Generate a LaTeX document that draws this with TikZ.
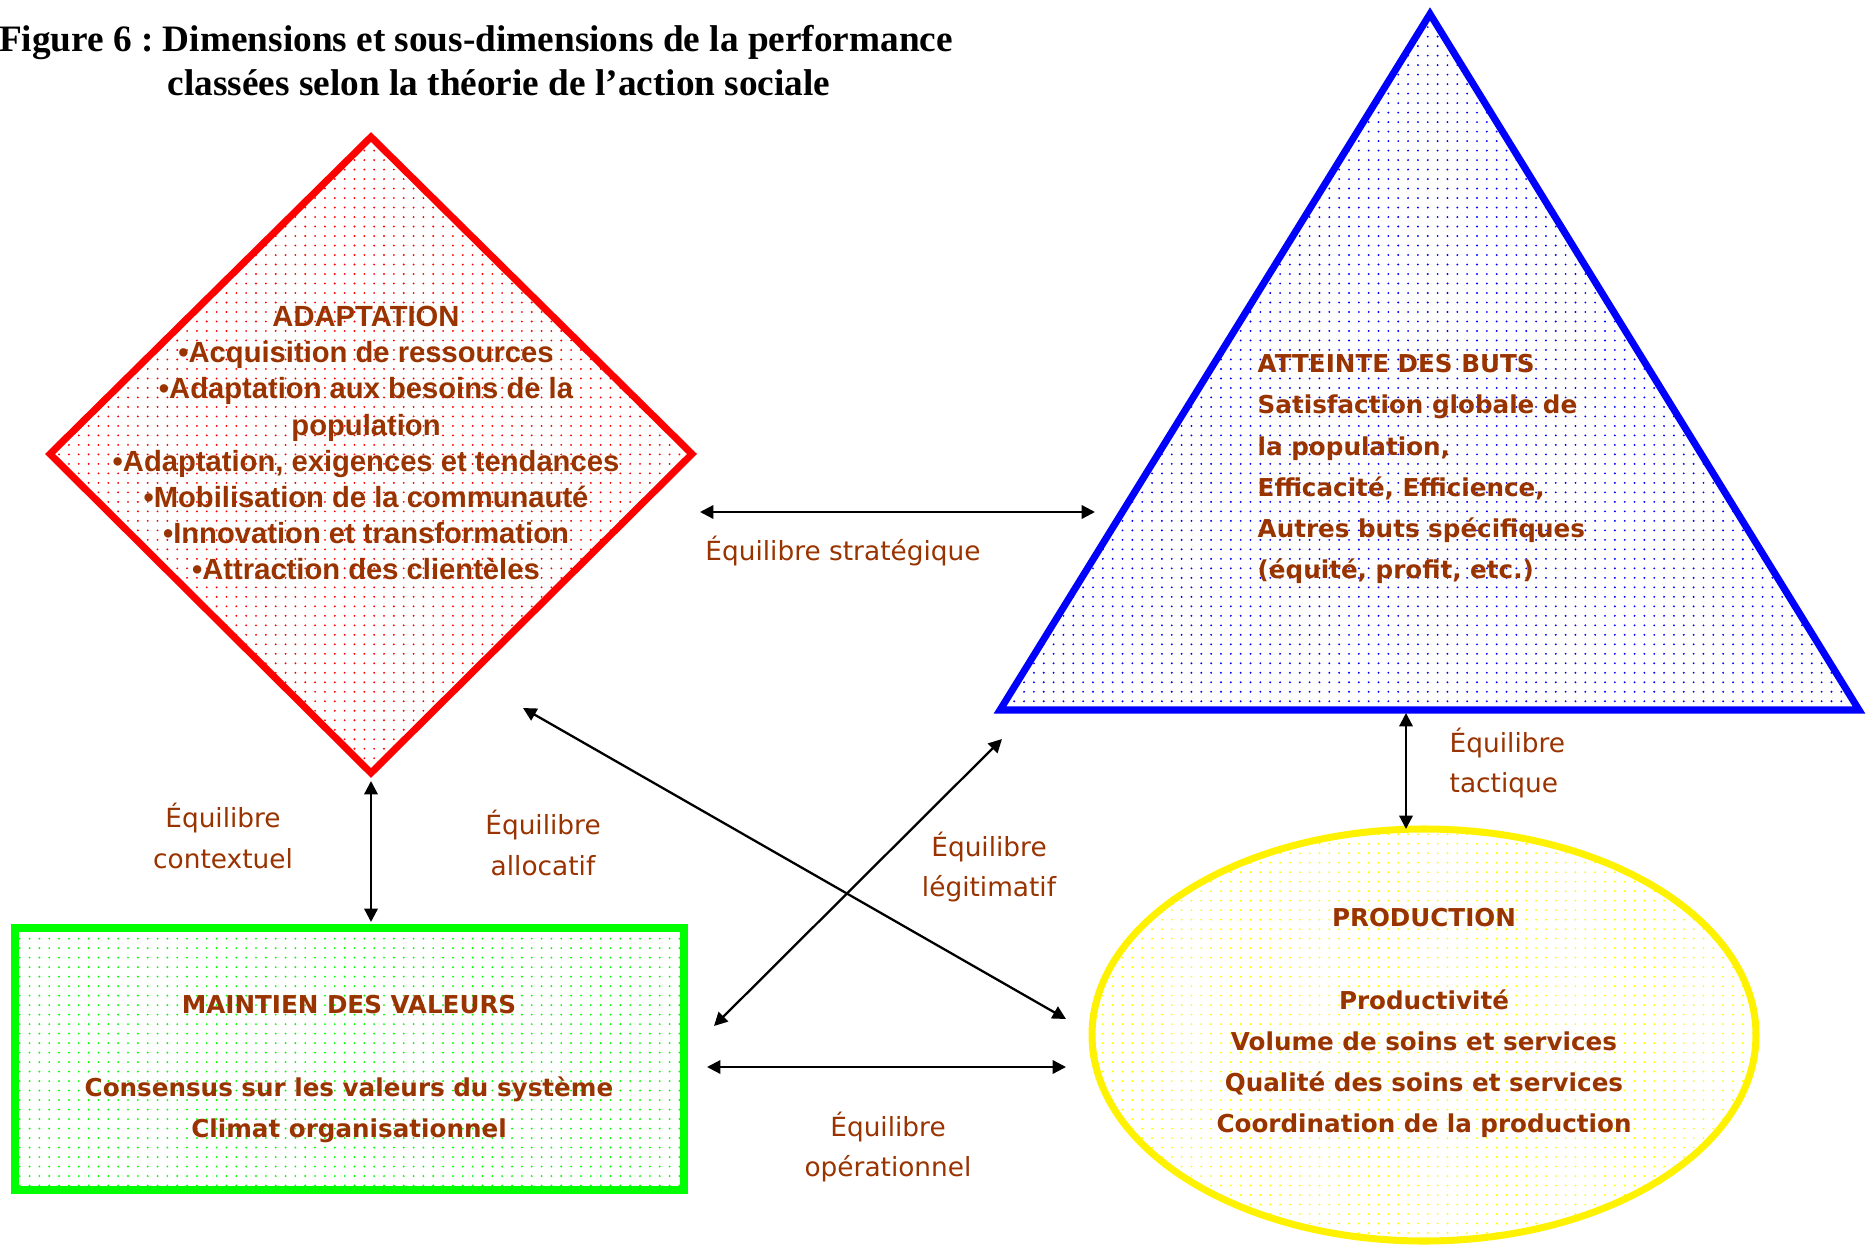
\documentclass[tikz,border=0pt]{standalone}
\usepackage{fontspec}
\setmainfont{Liberation Serif}
\newfontfamily\arialfont{Liberation Sans}
\newfontfamily\comicfont{DejaVu Sans}
\usetikzlibrary{arrows.meta,patterns.meta}
\frenchspacing

\definecolor{brun}{RGB}{153,51,0}

\tikzdeclarepattern{
  name=specks,
  type=uncolored,
  bottom left={(-1.4pt,-1.35pt)},
  top right={(1.4pt,1.35pt)},
  tile size={(2.8pt,2.7pt)},
  code={\fill (0pt,0pt) circle (0.3pt);}
}

\begin{document}
\begin{tikzpicture}[x=0.01cm, y=-0.01cm,
    bord/.style={line width=2pt},
    twoway/.style={{Triangle[length=3.8pt,width=3.8pt]}-{Triangle[length=3.8pt,width=3.8pt]}, line width=0.65pt},
    titre/.style={font=\fontsize{10.6}{12.2}\selectfont\bfseries, inner sep=0pt},
    corps/.style={text=brun, font=\comicfont\fontsize{7}{11.7}\selectfont\bfseries, inner sep=0pt},
    liste/.style={text=brun, font=\arialfont\fontsize{8.3}{10.25}\selectfont\bfseries, align=center, inner sep=0pt},
    equil/.style={text=brun, font=\comicfont\fontsize{7.5}{11.5}\selectfont, align=center, inner sep=0pt}]
        \useasboundingbox (0,0) rectangle (1870,1252);

        % Title
        \node[titre] (titre1) at (476,42) {Figure 6 : Dimensions et sous-dimensions de la performance};
        \node[titre] (titre2) at (499,83) {classées selon la théorie de l’action sociale};

        % Draw the four shapes
        \draw[bord, draw=red, pattern=specks, pattern color=red] (371,137) -- (692,454) -- (371,773) -- (50,454) -- cycle;
        \draw[bord, draw=blue, pattern=specks, pattern color=blue] (1430,14) -- (1859,710) -- (1000,710) -- cycle;
        \draw[bord, draw=green, pattern=specks, pattern color=green] (15,928) rectangle (684,1190);
        \draw[bord, draw=yellow, pattern=specks, pattern color=yellow] (1424,1035) ellipse [x radius=332, y radius=206];

        % Texts inside the shapes
        \node[liste] (adapt) at (366,443) {ADAPTATION\\•Acquisition de ressources\\•Adaptation aux besoins de la\\population\\•Adaptation, exigences et tendances\\•Mobilisation de la communauté\\•Innovation et transformation\\•Attraction des clientèles};
        \node[corps, anchor=west, align=left] (buts) at (1257,469) {ATTEINTE DES BUTS\\Satisfaction globale de\\la population,\\Efficacité, Efficience,\\Autres buts spécifiques\\(équité, profit, etc.)};
        \node[corps, align=center] (prod) at (1424,1023) {PRODUCTION\\\mbox{}\\Productivité\\Volume de soins et services\\Qualité des soins et services\\Coordination de la production};
        \node[corps, align=center] (valeurs) at (349,1069) {MAINTIEN DES VALEURS\\\mbox{}\\Consensus sur les valeurs du système\\Climat organisationnel};

        % End points of the arrows
        \coordinate (strat1) at (700,512);
        \coordinate (strat2) at (1095,512);
        \coordinate (tact1) at (1406,713);
        \coordinate (tact2) at (1406,829);
        \coordinate (ctx1) at (371,781);
        \coordinate (ctx2) at (371,922);
        \coordinate (alloc1) at (523,708);
        \coordinate (alloc2) at (1066,1019);
        \coordinate (legit1) at (1002,739);
        \coordinate (legit2) at (714,1026);
        \coordinate (oper1) at (707,1067);
        \coordinate (oper2) at (1066,1067);

        % Draw the arrows
        \draw[twoway] (strat1) -- (strat2);
        \draw[twoway] (tact1) -- (tact2);
        \draw[twoway] (ctx1) -- (ctx2);
        \draw[twoway] (alloc1) -- (alloc2);
        \draw[twoway] (legit1) -- (legit2);
        \draw[twoway] (oper1) -- (oper2);

        % Labels of the arrows
        \node[equil] (lstrat) at (843,551) {Équilibre stratégique};
        \node[equil, anchor=west, align=left] (ltact) at (1449,763) {Équilibre\\tactique};
        \node[equil] (lctx) at (223,836) {Équilibre\\contextuel};
        \node[equil] (lalloc) at (543,843) {Équilibre\\allocatif};
        \node[equil] (llegit) at (989,867) {Équilibre\\légitimatif};
        \node[equil] (loper) at (888,1147) {Équilibre\\opérationnel};
    \end{tikzpicture}
\end{document}
